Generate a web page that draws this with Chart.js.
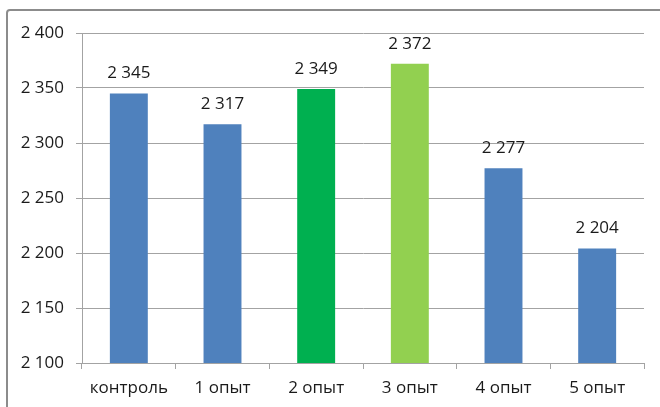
<!DOCTYPE html>
<html>
<head>
<meta charset="utf-8">
<script src="https://cdn.jsdelivr.net/npm/chart.js@4/dist/chart.umd.min.js"></script>
<style>
  html, body { margin: 0; padding: 0; background: #fff; overflow: hidden; }
  #wrap { position: relative; width: 660px; height: 407px; }
  #frame { position: absolute; left: 6px; top: 9px; width: 700px; height: 440px;
           border: 2px solid #8c8c8c; border-radius: 4px; box-sizing: border-box; }
  canvas { position: absolute; left: 0; top: 0; }
</style>
</head>
<body>
<div id="wrap">
  <div id="frame"></div>
  <canvas id="chart" width="660" height="407"></canvas>
</div>
<script>
const categories = ['контроль', '1 опыт', '2 опыт', '3 опыт', '4 опыт', '5 опыт'];
const values = [2345, 2317, 2349, 2372, 2277, 2204];
const barColors = ['#4f81bd', '#4f81bd', '#00b050', '#92d050', '#4f81bd', '#4f81bd'];
const yMin = 2100, yMax = 2400, yStep = 50;

// thousands separated by a space: 2345 -> "2 345"
function fmt(v) {
  return String(v).replace(/\B(?=(\d{3})+(?!\d))/g, ' ');
}

const FONT = '"Open Sans", "Liberation Sans", Arial, sans-serif';
const FONT_SIZE = 17;
const TEXT = '#1a1a1a';
const GRID = '#a3a3a3';

const valueLabels = {
  id: 'valueLabels',
  afterDatasetsDraw(chart) {
    const ctx = chart.ctx;
    const meta = chart.getDatasetMeta(0);
    ctx.save();
    ctx.font = FONT_SIZE + 'px ' + FONT;
    ctx.fillStyle = TEXT;
    ctx.textAlign = 'center';
    ctx.textBaseline = 'middle';
    meta.data.forEach((bar, i) => {
      ctx.fillText(fmt(values[i]), bar.x, bar.y - 20);
    });
    ctx.restore();
  }
};

new Chart(document.getElementById('chart'), {
  type: 'bar',
  data: {
    labels: categories,
    datasets: [{
      data: values,
      backgroundColor: barColors,
      borderWidth: 0,
      categoryPercentage: 1,
      barPercentage: 0.405
    }]
  },
  options: {
    responsive: false,
    animation: false,
    events: [],
    layout: { padding: { top: 33, right: 16, bottom: 0, left: 0 } },
    plugins: { legend: { display: false }, tooltip: { enabled: false } },
    scales: {
      x: {
        grid: { drawOnChartArea: false, tickLength: 6, color: GRID, offset: true },
        border: { color: GRID, width: 1 },
        ticks: { color: TEXT, font: { family: FONT, size: FONT_SIZE }, padding: 9, maxRotation: 0 },
        afterFit(scale) { scale.height = 44; }
      },
      y: {
        min: yMin,
        max: yMax,
        grid: { color: GRID, tickLength: 6 },
        border: { color: GRID, width: 1 },
        ticks: {
          stepSize: yStep,
          color: TEXT,
          font: { family: FONT, size: FONT_SIZE },
          padding: 12,
          callback: (v) => fmt(v)
        },
        afterFit(scale) { scale.width = 82; }
      }
    }
  },
  plugins: [valueLabels]
});
</script>
</body>
</html>
